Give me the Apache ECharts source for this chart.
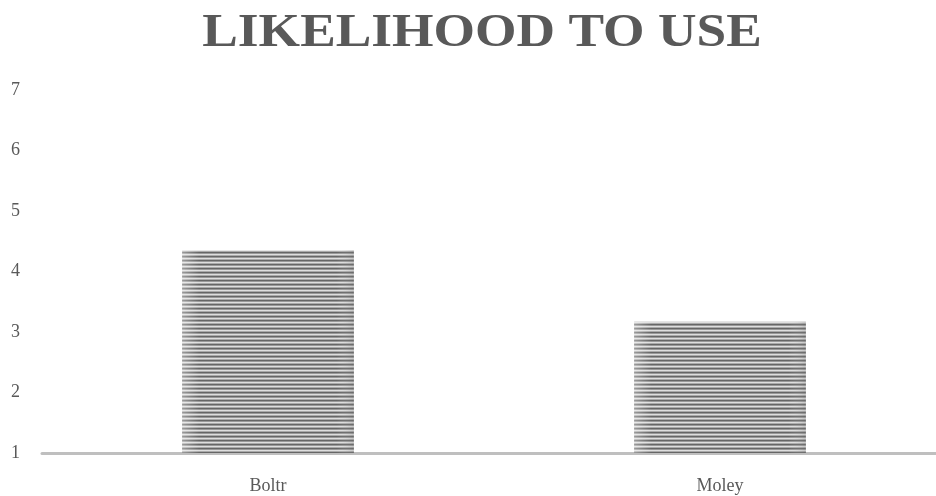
<!DOCTYPE html>
<html><head><meta charset="utf-8">
<script src="https://cdn.jsdelivr.net/npm/echarts@6/dist/echarts.min.js"></script>
<style>html,body{margin:0;padding:0;background:#fff;overflow:hidden;width:936px;height:496px}#c{width:946px;height:496px}</style>
</head><body><div id="c"></div>
<script>
const categories = ['Boltr', 'Moley'];
const values = [4.35, 3.17];
const yTicks = [1, 2, 3, 4, 5, 6, 7];
const titleText = 'LIKELIHOOD TO USE';

function stripePattern() {
  const c = document.createElement('canvas');
  c.width = 8; c.height = 4;
  const g = c.getContext('2d');
  const rows = ['#666666', '#999999', '#dedede', '#aaaaaa'];
  rows.forEach((col, i) => { g.fillStyle = col; g.fillRect(0, i, 8, 1); });
  return c;
}
const chart = echarts.init(document.getElementById('c'));
chart.setOption({
  animation: false,
  graphic: [{
    type: 'text', x: 482, y: 34, scaleX: 1.16, originX: 0, originY: 0,
    style: {
      text: titleText, align: 'center', verticalAlign: 'middle',
      font: 'bold 46px "Liberation Serif"', fill: '#595959'
    }
  }],
  grid: { left: 42, right: 0, top: 90, bottom: 43, containLabel: false },
  xAxis: {
    type: 'category', data: categories,
    axisLine: { lineStyle: { color: '#bfbfbf', width: 3 } },
    axisTick: { show: false },
    axisLabel: { fontFamily: 'Liberation Serif', fontSize: 18, color: '#595959', margin: 24 }
  },
  yAxis: {
    type: 'value', min: 1, max: 7, interval: 1,
    axisLine: { show: false }, axisTick: { show: false }, splitLine: { show: false },
    axisLabel: { fontFamily: 'Liberation Serif', fontSize: 18, color: '#595959', margin: 22,
      formatter: v => yTicks.includes(v) ? String(v) : '' }
  },
  series: [{
    type: 'bar', data: values, barWidth: '38%',
    itemStyle: { color: { image: stripePattern(), repeat: 'repeat' } }
  }, {
    type: 'bar', data: values, barWidth: '38%', barGap: '-100%', silent: true,
    itemStyle: { color: { type: 'linear', x: 0, y: 0, x2: 1, y2: 0, colorStops: [
      { offset: 0, color: 'rgba(255,255,255,0.35)' },
      { offset: 0.1, color: 'rgba(255,255,255,0)' },
      { offset: 0.9, color: 'rgba(255,255,255,0)' },
      { offset: 1, color: 'rgba(120,120,120,0.25)' } ] } }
  }]
});
</script></body></html>
